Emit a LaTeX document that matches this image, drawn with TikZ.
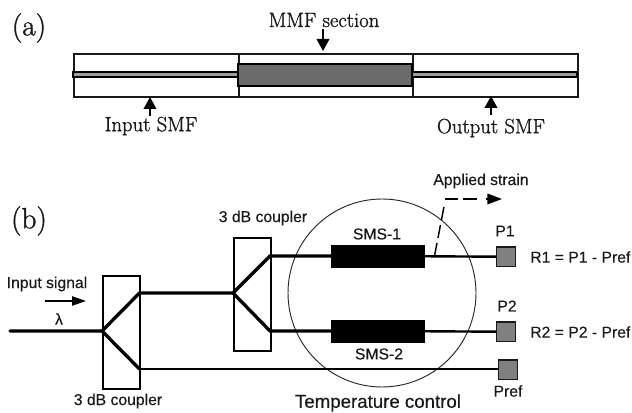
\documentclass[tikz,border=0pt]{standalone}
\usepackage{fontspec}
\setmainfont{Latin Modern Roman}[RawFeature={embolden=1.2}]
\newfontfamily\arialfont{Liberation Sans}[RawFeature={embolden=0.3}]
\usetikzlibrary{arrows.meta,calc}
\definecolor{coregray}{gray}{0.62}
\definecolor{mmfgray}{gray}{0.42}
\definecolor{detgray}{gray}{0.5}
\definecolor{inkdark}{gray}{0.1}
\tikzset{
  x=0.75pt,y=-0.75pt,
  serifl/.style={font=\fontsize{15.5}{17}\selectfont,text=inkdark,inner sep=0pt},
  paneltag/.style={font=\fontsize{22}{24}\selectfont,text=inkdark,inner sep=0pt},
  sansl/.style={font=\arialfont\fontsize{11.8}{14}\selectfont,text=inkdark,inner sep=0pt},
  sec/.style={draw=inkdark,line width=1.4pt,fill=white,inner sep=0pt,anchor=north west},
  bigarrow/.style={-{Triangle[length=9pt,width=9.5pt]},line width=1.1pt,draw=black},
  coupler/.style={draw=black,line width=1.5pt,fill=white,inner sep=0pt,anchor=north west,minimum width=28pt,minimum height=84.5pt},
  fiber/.style={draw=black,line width=2.5pt,line cap=round,line join=round},
  thinfiber/.style={draw=black,line width=1.8pt},
  sms/.style={draw=black,fill=black,inner sep=0pt,anchor=north west,minimum width=70pt,minimum height=16.5pt},
  detector/.style={draw=inkdark,line width=1pt,fill=detgray,inner sep=0pt,anchor=north west,minimum width=14.3pt,minimum height=14.3pt},
}
\begin{document}
\begin{tikzpicture}
\useasboundingbox (0,0) rectangle (632,413);
% ---- panel (a)
\node[paneltag] (taga) at (29,28) {(a)};
\node[sec,minimum width=124pt,minimum height=32pt] (inS) at (73,53) {};
\node[sec,minimum width=130.5pt,minimum height=32pt] (mid) at (238,53) {};
\node[sec,minimum width=123.75pt,minimum height=32pt] (outS) at (412,53) {};
\draw[draw=black,line width=1.5pt,fill=coregray] (73,72) rectangle (238,77.5);
\draw[draw=black,line width=1.5pt,fill=coregray] (412,72) rectangle (577,77.5);
\draw[draw=black,line width=1.7pt,fill=mmfgray] (238,64) rectangle (412,86);
\node[serifl] (mmfl) at (324,20) {MMF section};
\node[serifl] (inl) at (151,126) {Input SMF};
\node[serifl] (outl) at (491,128) {Output SMF};
\coordinate (mmfa) at (323,29);
\coordinate (mmfb) at (323,51);
\coordinate (ina) at (150,116);
\coordinate (inb) at (150,97);
\coordinate (outa) at (491,115);
\coordinate (outb) at (491,96);
\draw[bigarrow] (mmfa) -- (mmfb);
\draw[bigarrow] (ina) -- (inb);
\draw[bigarrow] (outa) -- (outb);
% ---- panel (b)
\node[paneltag] (tagb) at (29,221) {(b)};
\node[coupler] (c1) at (102,275) {};
\node[coupler] (c2) at (233,237) {};
\node[draw=black!85,line width=0.7pt,circle,minimum size=141pt,inner sep=0pt] (tc) at (382,293) {};
\node[sms] (s1) at (331,245) {};
\node[sms] (s2) at (331,320) {};
\node[detector] (p1) at (496,246.5) {};
\node[detector] (p2) at (496,321.5) {};
\node[detector] (pr) at (498,359.5) {};
\coordinate (start) at (10,331);
\coordinate (j1) at (102,331);
\coordinate (j1u) at (139.5,293);
\coordinate (j1d) at (139.5,369);
\coordinate (j2) at (233,293);
\coordinate (j2u) at (270,256);
\coordinate (j2d) at (270,331);
\draw[fiber] (start) -- (j1) -- (j1u) -- (j2) -- (j2u) -- (s1.west |- j2u);
\draw[fiber] (j2) -- (j2d) -- (s2.west |- j2d);
\draw[fiber] (j1) -- (j1d);
\draw[thinfiber] (j1d) -- (pr.west |- j1d);
\draw[thinfiber] (s1.east) -- (p1.west);
\draw[thinfiber] (s2.east) -- (p2.west);
\coordinate (st0) at (434.5,256);
\coordinate (st1) at (444.7,203);
\coordinate (st2) at (445,199);
\coordinate (st3) at (478,199);
\coordinate (st4) at (502,199);
\draw[line width=1.1pt,dash pattern=on 10pt off 3.7pt] (st0) -- (st1);
\draw[line width=1.1pt,dash pattern=on 10pt off 3.7pt] (st2) -- (st3);
\draw[-{Triangle[length=11pt,width=8pt]},line width=1.1pt] (486,199) -- (st4);
\coordinate (sigA) at (45,301);
\coordinate (sigB) at (86,301);
\draw[-{Triangle[length=10.5pt,width=7pt]},line width=1pt] (sigA) -- (sigB);
\node[sansl] (l0) at (47,284) {Input signal};
\node[sansl] (l1) at (59,319) {λ};
\node[sansl] (l2) at (118,401) {3 dB coupler};
\node[sansl] (l3) at (263,218) {3 dB coupler};
\node[sansl] (l4) at (377,234) {SMS-1};
\node[sansl] (l5) at (379,354) {SMS-2};
\node[sansl] (l6) at (481,181) {Applied strain};
\node[sansl,font=\arialfont\fontsize{14}{16}\selectfont] (l7) at (378,403) {Temperature control};
\node[sansl] (l8) at (505,231) {P1};
\node[sansl] (l9) at (507,306) {P2};
\node[sansl] (l10) at (508,391) {Pref};
\node[sansl,anchor=west] (l11) at (530,257) {R1 = P1 - Pref};
\node[sansl,anchor=west] (l12) at (530,332) {R2 = P2 - Pref};
\end{tikzpicture}
\end{document}
